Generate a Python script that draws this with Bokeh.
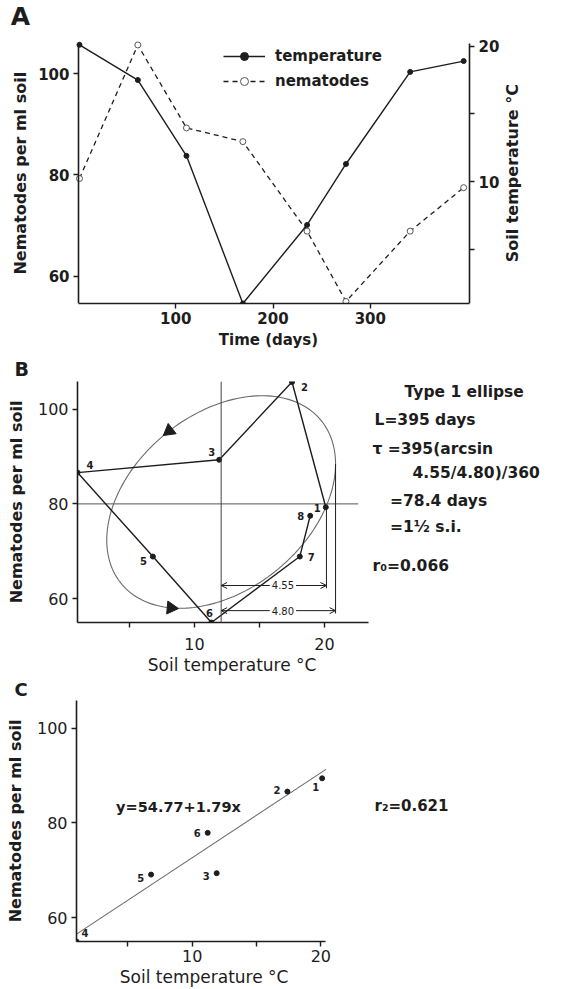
import math
import numpy as np
from bokeh.plotting import figure
from bokeh.models import (Range1d, LinearAxis, Label, Legend, LegendItem, Arrow,
                          OpenHead, FixedTicker, Span, Title)
from bokeh.core.properties import value
from bokeh.embed import file_html
from bokeh.resources import INLINE

# ---------------- data ----------------
sample_no = ["1", "2", "3", "4", "5", "6", "7", "8"]
days = [1, 61, 111, 169, 235, 275, 341, 396]
soil_temp = [20.1, 17.5, 11.9, 1.0, 6.8, 11.3, 18.1, 18.9]
nematodes = [79.3, 105.7, 89.3, 86.6, 68.9, 55.0, 68.9, 77.5]

# panel C: temperature vs nematodes two sampling intervals later
lag_no = ["1", "2", "3", "4", "5", "6"]
lag_temp = [20.1, 17.4, 11.9, 1.0, 6.8, 11.2]
lag_nem = [89.4, 86.6, 69.4, 55.0, 69.1, 77.9]

reg_intercept = 54.77
reg_slope = 1.79
reg_x = [1.0, 20.4]

mean_temp = 12.05
mean_nem = 80.0
ell_center_nem = 80.4
ell_half_temp = 8.8
ell_half_nem = 22.4
ell_phase_deg = 69
dir_t_deg = [117, 244]

dim_values = ["4.55", "4.80"]
dim_end_temp = [20.15, 20.85]
dim_level_nem = [62.8, 57.5]
dim_top_nem = [79.3, 88.4]
dim_text_temp = [16.8, 16.8]

a_x_ticks = [100, 200, 300]
nem_ticks = [60, 80, 100]
temp_ticks = [10, 20]
temp_minor = [5, 15]

# axis extents of panel A
a_days_span = (0, 402)
a_nem_span = (54.6, 106.0)
a_temp_span = (1.0, 20.2)

INK = "#1d1d1d"
GREY = "#6a6a6a"
FONT = "DejaVu Sans"


def style_axis(ax, tick_size="15px", bold=True):
    ax.axis_line_color = INK
    ax.axis_line_width = 1.6
    ax.major_tick_line_color = INK
    ax.major_tick_line_width = 1.4
    ax.major_tick_out = 5
    ax.major_tick_in = 0
    ax.minor_tick_line_color = INK
    ax.minor_tick_line_width = 1.4
    ax.minor_tick_out = 5
    ax.minor_tick_in = 0
    ax.major_label_text_font = FONT
    ax.major_label_text_font_size = tick_size
    ax.major_label_text_font_style = "bold" if bold else "normal"
    ax.major_label_text_color = INK
    ax.axis_label_text_font = FONT
    ax.axis_label_text_font_size = "16px"
    ax.axis_label_text_font_style = "bold"
    ax.axis_label_text_color = INK


def base_fig(**kw):
    p = figure(output_backend="svg", toolbar_location=None, **kw)
    p.outline_line_color = None
    p.xgrid.visible = False
    p.ygrid.visible = False
    p.background_fill_color = "white"
    p.border_fill_color = "white"
    return p


def letter_title(p, letter, size, offset, standoff):
    p.title.text = letter
    p.title.align = "left"
    p.title.offset = offset
    p.title.standoff = standoff
    p.title.text_font = FONT
    p.title.text_font_size = size
    p.title.text_font_style = "bold"
    p.title.text_color = INK


def below_title(p, text, size, bold, offset, standoff):
    p.add_layout(Title(text=text, align="left", offset=offset, standoff=standoff,
                       text_font=FONT, text_font_size=size,
                       text_font_style="bold" if bold else "normal", text_color=INK), "below")


def screen_label(p, text, x, y, size, bold=True, align="left", angle=0.0):
    p.add_layout(Label(x=x, y=y, x_units="screen", y_units="screen", text=text, angle=angle,
                       text_font=FONT, text_font_size=size,
                       text_font_style="bold" if bold else "normal",
                       text_color=INK, text_align=align, text_baseline="middle"))


# ---------------- panel A ----------------
# frame covers the page from x=0 to 556 and y=0 to 303; axes are pinned inside it
A_LEFT, A_RIGHT, A_TOP, A_BOTTOM = 78, 469, 43, 303.3
a_px_day = (A_RIGHT - A_LEFT) / (a_days_span[1] - a_days_span[0])
a_px_nem = (A_BOTTOM - A_TOP) / (a_nem_span[1] - a_nem_span[0])
a_px_temp = (A_BOTTOM - A_TOP) / (a_temp_span[1] - a_temp_span[0])
pa = base_fig(width=562, height=354,
              x_range=Range1d(a_days_span[0] - A_LEFT / a_px_day,
                              a_days_span[1] + (556 - A_RIGHT) / a_px_day),
              y_range=Range1d(a_nem_span[0], a_nem_span[1] + A_TOP / a_px_nem),
              min_border_left=0, min_border_right=6, min_border_top=0, min_border_bottom=51)
pa.extra_y_ranges = {"temp": Range1d(a_temp_span[0], a_temp_span[1] + A_TOP / a_px_temp)}

pa.xaxis.ticker = FixedTicker(ticks=a_x_ticks, minor_ticks=[])
pa.xaxis.bounds = a_days_span
pa.yaxis.ticker = FixedTicker(ticks=nem_ticks, minor_ticks=[])
pa.yaxis.bounds = a_nem_span
pa.yaxis.fixed_location = a_days_span[0]
style_axis(pa.xaxis[0])
style_axis(pa.yaxis[0])
pa.xaxis.major_label_standoff = 3
pa.yaxis.major_label_standoff = 4
below_title(pa, "Time (days)", "15px", True, 218.3, 4)

ra = LinearAxis(y_range_name="temp", fixed_location=a_days_span[1], bounds=a_temp_span,
                ticker=FixedTicker(ticks=temp_ticks, minor_ticks=temp_minor))
style_axis(ra)
ra.major_label_standoff = 4
pa.add_layout(ra, "right")

A_H = A_BOTTOM  # frame height in px (frame starts at page top)
screen_label(pa, "A", 20, A_H - 16, "25px", align="center")
screen_label(pa, "Nematodes per ml soil", 20, A_H - 173, "16px", align="center", angle=math.pi / 2)
screen_label(pa, "Soil temperature \u00b0C", 512, A_H - 173, "16px", align="center", angle=math.pi / 2)

t_line = pa.line(days, soil_temp, y_range_name="temp", line_color=INK, line_width=1.4)
t_pts = pa.scatter(days, soil_temp, y_range_name="temp", size=5, fill_color=INK, line_color=INK)
n_line = pa.line(days, nematodes, line_color=INK, line_width=1.3, line_dash="5 4")
n_pts = pa.scatter(days, nematodes, size=6, fill_color="white", line_color="#555555", line_width=1)

leg = Legend(items=[LegendItem(label="temperature", renderers=[t_line, t_pts]),
                    LegendItem(label="nematodes", renderers=[n_line, n_pts])],
             location=(223, 212), orientation="vertical", padding=0, margin=0, spacing=5,
             glyph_width=42, glyph_height=20, label_standoff=10,
             background_fill_alpha=0, border_line_color=None,
             label_text_font=FONT, label_text_font_size="15px", label_text_font_style="bold",
             label_text_color=INK)
pa.add_layout(leg)

# ---------------- panel B ----------------
b_px_per_temp = 13.0
pb = base_fig(width=562, height=321,
              x_range=Range1d(1.0, 1.0 + (556 - 77) / b_px_per_temp), y_range=Range1d(55.0, 105.8),
              min_border_left=77, min_border_right=6, min_border_top=25, min_border_bottom=53)
letter_title(pb, "B", "19px", -63, 3)
pb.xaxis.ticker = FixedTicker(ticks=temp_ticks, minor_ticks=temp_minor)
pb.xaxis.bounds = (1.0, 23.4)
pb.yaxis.ticker = FixedTicker(ticks=nem_ticks, minor_ticks=[])
pb.yaxis.axis_label = "Nematodes per ml soil"
style_axis(pb.xaxis[0], tick_size="16px", bold=False)
style_axis(pb.yaxis[0], tick_size="16px", bold=False)
pb.xaxis.major_label_standoff = 10
pb.yaxis.major_label_standoff = 4
pb.yaxis.axis_label_standoff = 9
below_title(pb, "Soil temperature \u00b0C", "17px", False, 70.3, 0)

# mean cross-hair
pb.add_layout(Span(location=mean_temp, dimension="height", line_color="#444444", line_width=1))
pb.segment(x0=[1.0], y0=[mean_nem], x1=[22.6], y1=[mean_nem], line_color="#555555", line_width=1)

# fitted ellipse
tt = np.radians(np.arange(0, 361, 2))
ph = math.radians(ell_phase_deg)
ex = mean_temp + ell_half_temp * np.cos(tt)
ey = ell_center_nem + ell_half_nem * np.cos(tt - ph)
pb.line(ex, ey, line_color=GREY, line_width=1.1)

# direction arrows on the ellipse
px_per_nem = 4.78
ax_, ay_, ang_ = [], [], []
for td in dir_t_deg:
    t = math.radians(td)
    ax_.append(mean_temp + ell_half_temp * math.cos(t))
    ay_.append(ell_center_nem + ell_half_nem * math.cos(t - ph))
    dx = -ell_half_temp * math.sin(t) * b_px_per_temp
    dy = -ell_half_nem * math.sin(t - ph) * px_per_nem
    ang_.append(math.atan2(dy, dx) - math.pi / 2)
pb.scatter(ax_, ay_, marker="triangle", size=13, angle=ang_, fill_color=INK, line_color=INK)

# trajectory through the samples
pb.line(soil_temp, nematodes, line_color=INK, line_width=1.4)
pb.scatter(soil_temp, nematodes, size=5, fill_color=INK, line_color=INK)
pb.text(soil_temp, nematodes, text=sample_no,
        x_offset=[-5, 9, -4, 9, -6, -2, 8, -6], y_offset=[1, 5, -8, -8, 4, -10, 0, 0],
        text_align=["right", "left", "right", "left", "right", "center", "left", "right"],
        text_baseline="middle", text_font=value(FONT), text_font_size="10px",
        text_font_style="bold", text_color=INK)

# dimension lines 4.55 / 4.80
for i in range(2):
    pb.segment(x0=[dim_end_temp[i]], y0=[dim_top_nem[i]], x1=[dim_end_temp[i]],
               y1=[dim_level_nem[i] - 0.6], line_color=INK, line_width=1)
    pb.add_layout(Arrow(start=OpenHead(size=6, line_color=INK, line_width=1),
                        end=OpenHead(size=6, line_color=INK, line_width=1),
                        x_start=mean_temp, y_start=dim_level_nem[i],
                        x_end=dim_end_temp[i], y_end=dim_level_nem[i],
                        line_color=INK, line_width=1))
    pb.add_layout(Label(x=dim_text_temp[i], y=dim_level_nem[i], text=dim_values[i],
                        text_font=FONT, text_font_size="10px", text_color=INK,
                        text_align="center", text_baseline="middle",
                        background_fill_color="white", padding=2))

b_notes = ["Type 1 ellipse", "L=395 days", "\u03c4 =395(arcsin", "4.55/4.80)/360",
           "=78.4 days", "=1\u00bd s.i.", "r\u2080=0.066"]
b_note_x = [386.7, 297, 295, 335, 312.6, 312.6, 295]
b_note_y = [230.3, 202.7, 173.7, 149.3, 122, 95.3, 57]
b_note_align = ["center", "left", "left", "left", "left", "left", "left"]
for s, x, y, al in zip(b_notes, b_note_x, b_note_y, b_note_align):
    screen_label(pb, s, x, y, "15.5px", align=al)

# ---------------- panel C ----------------
c_px_per_temp = 12.86
pc = base_fig(width=562, height=314,
              x_range=Range1d(1.0, 1.0 + (556 - 76) / c_px_per_temp), y_range=Range1d(55.0, 105.8),
              min_border_left=76, min_border_right=6, min_border_top=23, min_border_bottom=48)
letter_title(pc, "C", "18px", -62, 2)
pc.xaxis.ticker = FixedTicker(ticks=temp_ticks, minor_ticks=temp_minor)
pc.xaxis.bounds = (1.0, 20.4)
pc.yaxis.ticker = FixedTicker(ticks=nem_ticks, minor_ticks=[])
pc.yaxis.axis_label = "Nematodes per ml soil"
style_axis(pc.xaxis[0], tick_size="16px", bold=False)
style_axis(pc.yaxis[0], tick_size="16px", bold=False)
pc.xaxis.major_label_standoff = 3
pc.yaxis.major_label_standoff = 4
pc.yaxis.axis_label_standoff = 9
below_title(pc, "Soil temperature \u00b0C", "17px", False, 43.3, 0)

reg_y = [reg_intercept + reg_slope * x for x in reg_x]
pc.line(reg_x, reg_y, line_color=GREY, line_width=1.1)
pc.scatter(lag_temp, lag_nem, size=5, fill_color=INK, line_color=INK)
pc.text(lag_temp, lag_nem, text=lag_no,
        x_offset=[-3, -7, -7, 5, -7, -7], y_offset=[9, -2, 3, -9, 3, 0],
        text_align=["right", "right", "right", "left", "right", "right"],
        text_baseline="middle", text_font=value(FONT), text_font_size="10px",
        text_font_style="bold", text_color=INK)
pc.add_layout(Label(x=8.93, y=83.3, text="y=54.77+1.79x", text_font=FONT,
                    text_font_size="14.5px", text_font_style="bold", text_color=INK,
                    text_align="center", text_baseline="middle"))
screen_label(pc, "r\u2082=0.621", 298, 136, "15px")

open("out.html", "w").write(file_html([pa, pb, pc], INLINE))
